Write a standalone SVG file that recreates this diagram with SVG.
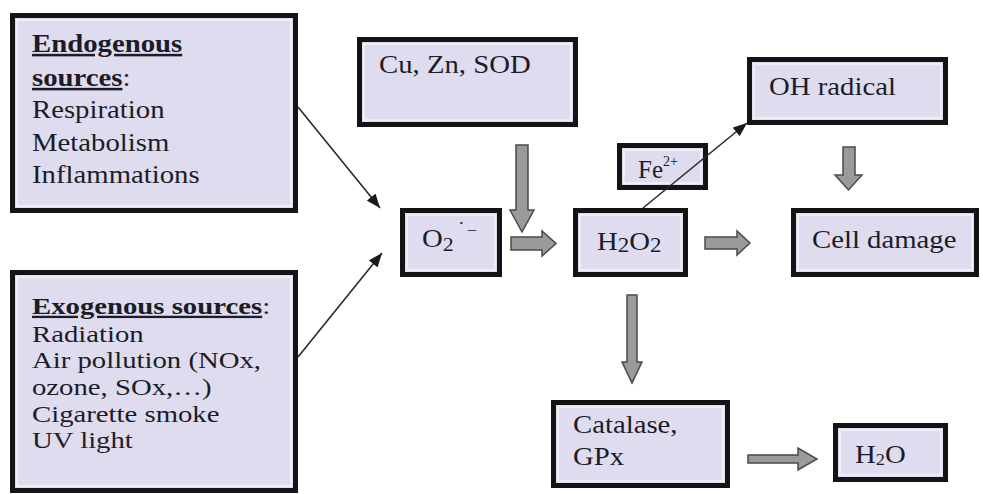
<svg xmlns="http://www.w3.org/2000/svg" width="983" height="494" viewBox="0 0 983 494">
<style>
  .box { fill:#dedcee; stroke:#141414; stroke-width:5; }
  .inner { fill:none; stroke:#f3f3f9; stroke-width:1.5; }
  .t { font-family:"Liberation Serif","Times New Roman",serif; font-size:25px; fill:#1c1c28; }
  .s { font-size:23px; }
  .b { font-weight:bold; text-decoration:underline; text-decoration-thickness:2.5px; }
  .blk { fill:#9a9a9a; stroke:#4a4a4a; stroke-width:1.5; stroke-linejoin:miter; }
  .thin { stroke:#2a2a2a; stroke-width:1.6; fill:none; marker-end:url(#ah); }
</style>
<defs>
  <marker id="ah" viewBox="0 0 10 8" refX="10" refY="4" markerWidth="9" markerHeight="7" orient="auto" markerUnits="strokeWidth">
    <path d="M0,0 L10,4 L0,8 z" fill="#1a1a1a"/>
  </marker>
</defs>
<rect width="983" height="494" fill="#ffffff"/>

<g id="endogenous">
  <rect class="box" x="12.5" y="15.5" width="283" height="195"/>
  <rect class="inner" x="17" y="20" width="274" height="186"/>
  <text class="t" transform="translate(32 52) scale(1.15 1)"><tspan class="b">Endogenous</tspan></text>
  <text class="t" transform="translate(32 86) scale(1.15 1)"><tspan class="b">sources</tspan>:</text>
  <text class="t" transform="translate(32 118) scale(1.15 1)">Respiration</text>
  <text class="t" transform="translate(32 151) scale(1.15 1)">Metabolism</text>
  <text class="t" transform="translate(32 183) scale(1.15 1)">Inflammations</text>
</g>

<g id="exogenous">
  <rect class="box" x="12.5" y="272.5" width="283" height="218"/>
  <rect class="inner" x="17" y="277" width="274" height="209"/>
  <text class="t s" transform="translate(32 314) scale(1.25 1)"><tspan class="b">Exogenous sources</tspan>:</text>
  <text class="t s" transform="translate(32 342) scale(1.25 1)">Radiation</text>
  <text class="t s" transform="translate(32 368) scale(1.25 1)">Air pollution (NOx,</text>
  <text class="t s" transform="translate(32 395) scale(1.25 1)">ozone, SOx,…)</text>
  <text class="t s" transform="translate(32 422) scale(1.25 1)">Cigarette smoke</text>
  <text class="t s" transform="translate(32 448) scale(1.25 1)">UV light</text>
</g>

<g id="sod">
  <rect class="box" x="359.5" y="39.5" width="216" height="85"/>
  <rect class="inner" x="364" y="44" width="207" height="76"/>
  <text class="t" transform="translate(379 73) scale(1.15 1)">Cu, Zn, SOD</text>
</g>

<g id="superoxide">
  <rect class="box" x="402.5" y="210.5" width="97" height="64"/>
  <rect class="inner" x="407" y="215" width="88" height="55"/>
  <text class="t" transform="translate(422 247) scale(1.15 1)">O<tspan font-size="19" dy="4">2</tspan><tspan font-size="16" dx="4" dy="-22">·</tspan><tspan font-size="16" dx="2" dy="7">−</tspan></text>
</g>

<g id="h2o2">
  <rect class="box" x="575.5" y="210.5" width="110" height="64"/>
  <rect class="inner" x="580" y="215" width="101" height="55"/>
  <text class="t" transform="translate(597 250) scale(1.15 1)">H<tspan font-size="20" dy="2">2</tspan><tspan dy="-2">O</tspan><tspan font-size="20" dy="2">2</tspan></text>
</g>

<g id="fe">
  <rect class="box" x="619.5" y="145.5" width="86" height="42"/>
  <rect class="inner" x="624" y="150" width="77" height="33"/>
  <text class="t" x="638" y="178" font-size="24">Fe<tspan font-size="14" dy="-12">2+</tspan></text>
</g>

<g id="oh">
  <rect class="box" x="749.5" y="59.5" width="196" height="63"/>
  <rect class="inner" x="754" y="64" width="187" height="54"/>
  <text class="t" transform="translate(769 95) scale(1.15 1)">OH radical</text>
</g>

<g id="cell">
  <rect class="box" x="793.5" y="210.5" width="183" height="64"/>
  <rect class="inner" x="798" y="215" width="174" height="55"/>
  <text class="t" transform="translate(812 248) scale(1.15 1)">Cell damage</text>
</g>

<g id="catalase">
  <rect class="box" x="553.5" y="402.5" width="174" height="83"/>
  <rect class="inner" x="558" y="407" width="165" height="74"/>
  <text class="t" transform="translate(573 433) scale(1.15 1)">Catalase,</text>
  <text class="t" transform="translate(573 465) scale(1.15 1)">GPx</text>
</g>

<g id="h2o">
  <rect class="box" x="835.5" y="425.5" width="110" height="54"/>
  <rect class="inner" x="840" y="430" width="101" height="45"/>
  <text class="t" transform="translate(855 463) scale(1.15 1)">H<tspan font-size="16" dy="2">2</tspan><tspan dy="-2">O</tspan></text>
</g>

<g id="connectors">
  <line class="thin" x1="298" y1="107" x2="380" y2="208"/>
  <line class="thin" x1="298" y1="357" x2="382" y2="253"/>
  <line class="thin" x1="643" y1="208" x2="747" y2="123"/>
  <polygon class="blk" points="516,145 528,145 528,210 534,210 522,232 510,210 516,210"/>
  <polygon class="blk" points="511,237 542,237 542,231 556,243.5 542,256 542,250 511,250"/>
  <polygon class="blk" points="705,237 737,237 737,231 750,243 737,255 737,249 705,249"/>
  <polygon class="blk" points="843,147 855,147 855,175 862,175 848.5,190 835,175 843,175"/>
  <polygon class="blk" points="627,295 637,295 637,362 642,362 632,383 622,362 627,362"/>
  <polygon class="blk" points="748,455 798,455 798,448 817,459 798,470 798,463 748,463"/>
</g>
</svg>
